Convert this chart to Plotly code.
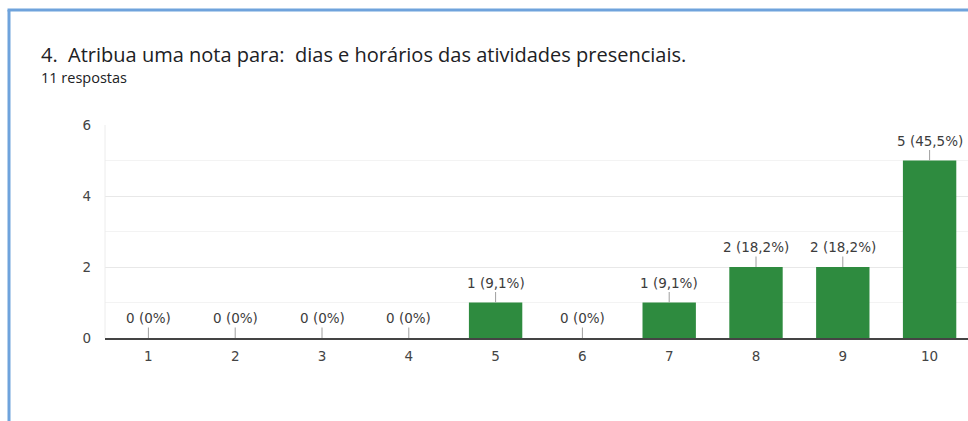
import plotly.graph_objects as go

categories = ["1", "2", "3", "4", "5", "6", "7", "8", "9", "10"]
counts = [0, 0, 0, 0, 1, 0, 1, 2, 2, 5]
labels = ["0 (0%)", "0 (0%)", "0 (0%)", "0 (0%)", "1 (9,1%)", "0 (0%)",
          "1 (9,1%)", "2 (18,2%)", "2 (18,2%)", "5 (45,5%)"]
title_text = "4.  Atribua uma nota para:  dias e horários das atividades presenciais."
subtitle_text = "11 respostas"

W, H = 968, 421
PLOT_LEFT, PLOT_TOP, PLOT_BOTTOM = 105, 125, 338   # window coords
L = PLOT_LEFT
T = PLOT_TOP
B = H - PLOT_BOTTOM
R = 0
PW, PH = W - L - R, H - T - B

def px(x):  # window x -> paper
    return (x - L) / PW

def py(y):  # window y -> paper
    return (H - B - y) / PH

xs = list(range(1, len(categories) + 1))

fig = go.Figure()
fig.add_trace(go.Bar(
    x=xs, y=counts, marker_color="#2e8b3f", width=0.615,
    marker_line_width=0, hoverinfo="skip", showlegend=False,
))

LABEL_FONT = dict(family="DejaVu Sans, Liberation Sans, Arial", size=13.5, color="#3c3c3c")
TICK_FONT = dict(family="DejaVu Sans, Liberation Sans, Arial", size=13.5, color="#444444")

annotations = []
for x, c, lab in zip(xs, counts, labels):
    annotations.append(dict(
        x=x, y=c, xref="x", yref="y", text=lab, showarrow=True,
        ax=0, ay=-20, arrowhead=0, arrowwidth=1, arrowcolor="#9e9e9e",
        standoff=0, startstandoff=0, font=LABEL_FONT,
    ))

annotations.append(dict(
    x=px(39), y=py(54), xref="paper", yref="paper", xanchor="left", yanchor="middle",
    text=title_text, showarrow=False,
    font=dict(family="Open Sans, Roboto", size=20, color="#202124"),
))
annotations.append(dict(
    x=px(39), y=py(78), xref="paper", yref="paper", xanchor="left", yanchor="middle",
    text=subtitle_text, showarrow=False,
    font=dict(family="Open Sans, Roboto", size=14.5, color="#202124", weight=500),
))

shapes = [
    # card border (left and top)
    dict(type="line", xref="paper", yref="paper", x0=px(9), x1=px(9), y0=py(10), y1=py(430),
         line=dict(color="#6fa3dc", width=3)),
    dict(type="line", xref="paper", yref="paper", x0=px(7.5), x1=px(975), y0=py(10), y1=py(10),
         line=dict(color="#6fa3dc", width=3)),
    # faint left edge of plot
    dict(type="line", xref="paper", yref="paper", x0=0, x1=0, y0=0, y1=1,
         line=dict(color="#ececec", width=1)),
]

fig.update_layout(
    width=W, height=H,
    margin=dict(l=L, r=R, t=T, b=B, pad=0),
    paper_bgcolor="white", plot_bgcolor="white",
    annotations=annotations, shapes=shapes,
    xaxis=dict(
        range=[0.5, 0.5 + PW / 86.8], tickmode="array", tickvals=xs, ticktext=categories,
        showgrid=False, zeroline=False, showline=True, linecolor="#444444", linewidth=1.5,
        ticks="", ticklabelstandoff=5, tickfont=TICK_FONT, fixedrange=True,
    ),
    yaxis=dict(
        range=[0, 6], tickmode="array", tickvals=[0, 2, 4, 6],
        showgrid=True, gridcolor="#e8e8e8", gridwidth=1,
        minor=dict(tickvals=[1, 3, 5], showgrid=True, gridcolor="#f3f3f3", gridwidth=1),
        zeroline=False, ticks="", ticklabelstandoff=13, tickfont=TICK_FONT, fixedrange=True,
    ),
)

fig.write_html(
    "out.html",
    config={"displayModeBar": False, "staticPlot": True},
    post_script="document.body.style.margin='0';"
                "document.body.style.overflow='hidden';"
                "document.documentElement.style.overflow='hidden';",
)
